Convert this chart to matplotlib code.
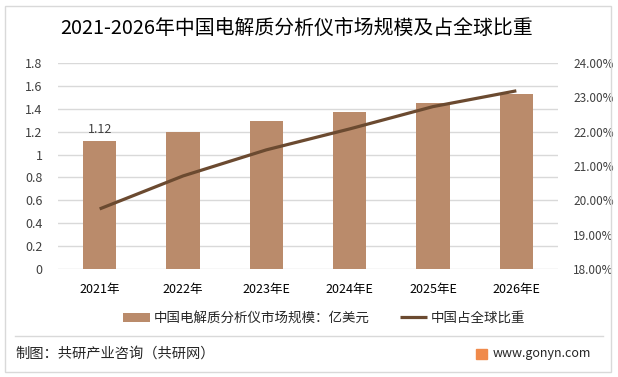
import matplotlib.pyplot as plt
from matplotlib.patches import Rectangle
from matplotlib.lines import Line2D
from matplotlib.ticker import FuncFormatter, MultipleLocator

plt.rcParams['font.family'] = ['Noto Sans CJK SC', 'DejaVu Sans']

# 数据
years = ['2021年', '2022年', '2023年E', '2024年E', '2025年E', '2026年E']
market_size = [1.12, 1.20, 1.29, 1.37, 1.45, 1.53]   # 亿美元
global_share = [19.75, 20.71, 21.47, 22.08, 22.73, 23.19]  # %

bar_color = '#BA8B6B'
line_color = '#6B4A30'
grid_color = '#D9D9D9'
text_color = '#404040'

fig = plt.figure(figsize=(6.18, 3.77), dpi=100)

# 外框和分隔线
fig.patches.append(Rectangle((5 / 618, 1 - 372 / 377), 606 / 618, 366 / 377,
                             transform=fig.transFigure, fill=False,
                             edgecolor='#D9D9D9', lw=1))
fig.lines.append(Line2D([15 / 618, 603 / 618], [1 - 336 / 377] * 2,
                        transform=fig.transFigure, color='#D9D9D9', lw=1))

ax = fig.add_axes([58 / 618, 1 - 269 / 377, 500 / 618, 206 / 377])
x = range(len(years))
bars = ax.bar(x, market_size, width=0.4, color=bar_color, zorder=2,
              label='中国电解质分析仪市场规模：亿美元')
ax.set_ylim(0, 1.8)
ax.set_xlim(-0.5, len(years) - 0.5)
ax.yaxis.set_major_locator(MultipleLocator(0.2))
ax.yaxis.set_major_formatter(FuncFormatter(lambda v, p: f'{v:g}'))
ax.grid(axis='y', color=grid_color, lw=1, zorder=0)
ax.set_axisbelow(True)
for s in ax.spines.values():
    s.set_visible(False)
ax.tick_params(axis='both', length=0, labelsize=9, colors=text_color)
ax.tick_params(axis='y', pad=11)
ax.tick_params(axis='x', pad=10, labelcolor='black')
ax.set_xticks(list(x))
ax.set_xticklabels(years)

# 只有第一根柱子有数据标签
ax.text(0, market_size[0] + 0.04, f'{market_size[0]:.2f}', ha='center',
        va='bottom', fontsize=9, color=text_color)

ax2 = ax.twinx()
ax2.plot(x, global_share, color=line_color, lw=2.3, zorder=3,
         solid_capstyle='butt', label='中国占全球比重')
ax2.set_ylim(18, 24)
ax2.yaxis.set_major_locator(MultipleLocator(1))
ax2.yaxis.set_major_formatter(FuncFormatter(lambda v, p: f'{v:.2f}%'))
for s in ax2.spines.values():
    s.set_visible(False)
ax2.tick_params(axis='y', length=0, labelsize=8.5, colors=text_color, pad=11)

h1, l1 = ax.get_legend_handles_labels()
h2, l2 = ax2.get_legend_handles_labels()
fig.legend(h1 + h2, l1 + l2, loc='center', bbox_to_anchor=(324 / 618, 1 - 318 / 377),
           ncol=2, frameon=False, fontsize=9.7, handlelength=2.0, handleheight=0.6,
           columnspacing=2.2, handletextpad=0.3, labelcolor='#262626')

fig.text(297 / 618, 1 - 28 / 377, '2021-2026年中国电解质分析仪市场规模及占全球比重',
         ha='center', va='center', fontsize=14.3, color='black')
fig.text(15 / 618, 1 - 354 / 377, '制图：共研产业咨询（共研网）', ha='left',
         va='center', fontsize=10.3, color='#262626')
fig.patches.append(Rectangle((476 / 618, 1 - 359 / 377), 11 / 618, 10 / 377,
                             transform=fig.transFigure, color='#F08A4B'))
fig.text(493 / 618, 1 - 354 / 377, 'www.gonyn.com', ha='left', va='center',
         fontsize=9, color='#262626')

fig.savefig('out.png', dpi=100)
